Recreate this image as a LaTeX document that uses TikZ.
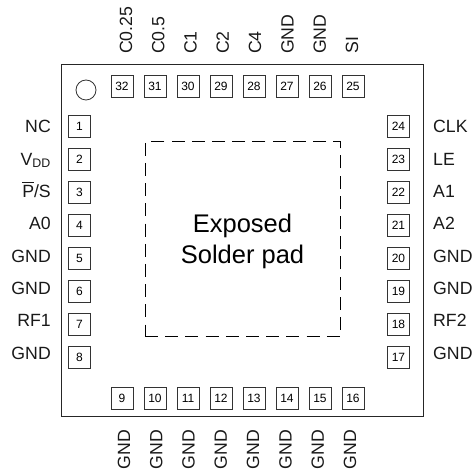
\documentclass[tikz,border=0pt]{standalone}
\usepackage{fontspec}
\setmainfont{Liberation Sans}
\usepackage{tikz}

\begin{document}
\begin{tikzpicture}[
        x=1pt, y=-1pt,
        package/.style={rectangle, draw=black!85, line width=1pt, minimum width=362pt, minimum height=352pt, inner sep=0pt},
        pin/.style={rectangle, draw=black!80, line width=0.8pt, minimum size=22pt, inner sep=0pt, font=\fontsize{12}{12}\selectfont},
        pad/.style={rectangle, draw=black, line width=1pt, dash pattern=on 13pt off 7.2pt, minimum size=195pt, inner sep=0pt},
        padtext/.style={align=center, inner sep=0pt, font=\fontsize{25.5}{31}\selectfont},
        marker/.style={circle, draw=black!80, line width=0.8pt, minimum size=20pt, inner sep=0pt},
        signal/.style={font=\fontsize{17.7}{18}\selectfont, text=black!90, inner sep=0pt}
    ]
    \useasboundingbox (0,0) rectangle (475,470);
    \node[package] (chip) at (242,240.5) {};
    \node[marker] (dot) at (86,90) {};
    \node[pad] (expad) at (242.5,239.5) {};
    \node[padtext] (padlabel) at (242.5,241.5) {Exposed\\Solder pad};
    % left and right rows
    \foreach \n/\lab [count=\i from 0] in {1/NC, 2/V\textsubscript{DD}, 3/{$\overline{\mbox{P\rule{0pt}{14pt}}}$/S}, 4/A0, 5/GND, 6/GND, 7/RF1, 8/GND} {
        \node[pin] (pin\n) at (79.5,126+33*\i) {\n};
        \node[signal, anchor=base east] (sig\n) at (51,133+32.3*\i) {\lab};
    }
    \foreach \n/\lab [count=\i from 0] in {24/CLK, 23/LE, 22/A1, 21/A2, 20/GND, 19/GND, 18/RF2, 17/GND} {
        \node[pin] (pin\n) at (398.5,126+33*\i) {\n};
        \node[signal, anchor=base west] (sig\n) at (433,133+32.3*\i) {\lab};
    }
    % top and bottom rows
    \foreach \n/\lab [count=\i from 0] in {32/C0.25, 31/C0.5, 30/C1, 29/C2, 28/C4, 27/GND, 26/GND, 25/SI} {
        \node[pin] (pin\n) at (122+33*\i,86.5) {\n};
        \node[signal, rotate=90, anchor=base west] (sig\n) at (132+32.3*\i,54) {\lab};
    }
    \foreach \n [count=\i from 0] in {9,...,16} {
        \node[pin] (pin\n) at (122+33*\i,398.5) {\n};
        \node[signal, rotate=90, anchor=base west] (sig\n) at (130+32.3*\i,469.5) {GND};
    }
    \end{tikzpicture}
\end{document}
